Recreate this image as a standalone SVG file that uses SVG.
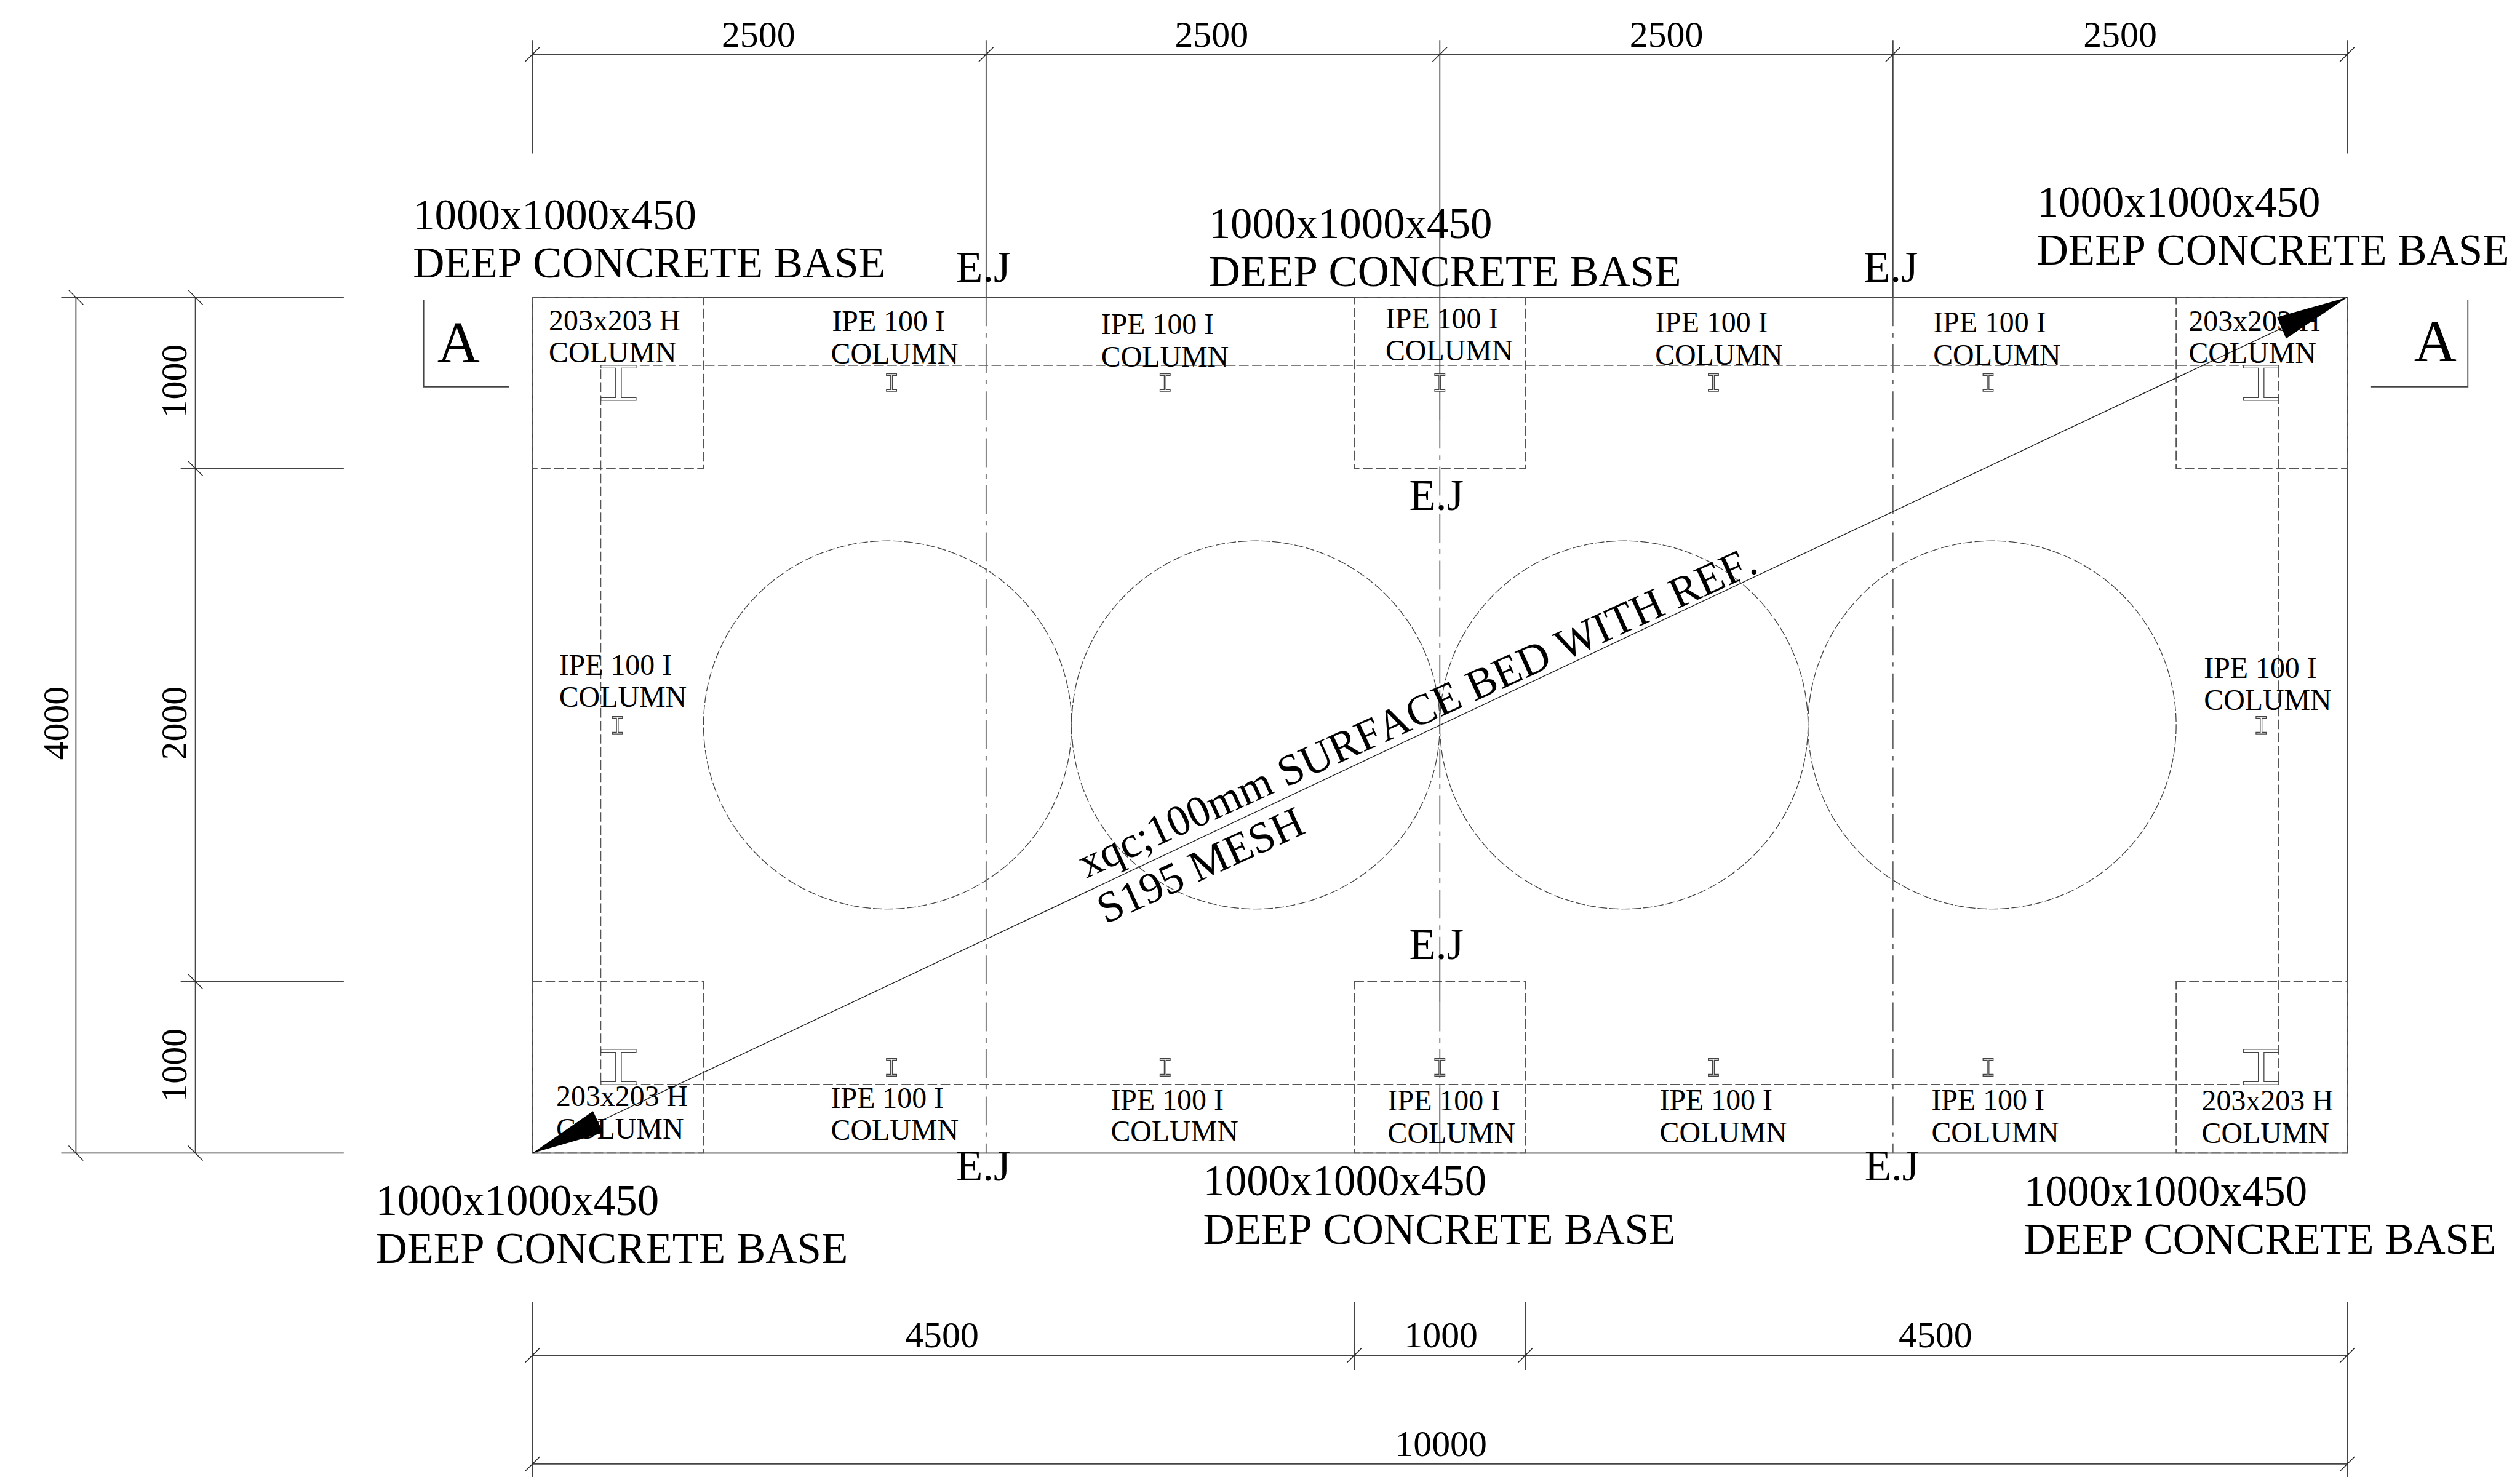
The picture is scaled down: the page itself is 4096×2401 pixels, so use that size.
<svg xmlns="http://www.w3.org/2000/svg" xmlns:xlink="http://www.w3.org/1999/xlink" width="4096" height="2401" viewBox="0 0 4096 2401">
<style>
text{font-family:"Liberation Serif","Times New Roman",serif;fill:#000;font-kerning:none}
.big{font-size:77px}
.lab{font-size:52px}
.dim{font-size:65px;text-anchor:middle}
.sec{font-size:104px}
.l{stroke:#444;stroke-width:2;fill:none}
.t{stroke:#222;stroke-width:1.5;fill:none}
.d{stroke:#555;stroke-width:2;fill:none;stroke-dasharray:17 6}
.c{stroke:#444;stroke-width:1.4;fill:none;stroke-dasharray:16 4}
.e{stroke:#666;stroke-width:2;fill:none;stroke-dasharray:51 12 8 12}
.s{stroke:#444;stroke-width:1.4;fill:#fff}
</style>
<defs>
<path id="bigI" class="s" d="M0 0H62V5H36V57H62V62H0V57H26V5H0Z"/>
<path id="smallI" class="s" d="M0 0H18V3H10.5V28H18V31H0V28H7.5V3H0Z"/>
<path id="tick" class="t" d="M-13 13L13 -13"/>
<path id="tickb" class="t" d="M-13 -13L13 13"/>
</defs>
<g transform="scale(0.92065)">
<g id="slab">
<rect class="l" x="940" y="525" width="3204" height="1511"/>
<rect class="d" x="1060.5" y="645" width="2962.5" height="1270"/>
</g>
<g id="bases">
<rect class="d" x="940" y="525" width="302" height="302"/>
<rect class="d" x="2391" y="525" width="302" height="302"/>
<rect class="d" x="3842" y="525" width="302" height="302"/>
<rect class="d" x="940" y="1733" width="302" height="303"/>
<rect class="d" x="2391" y="1733" width="302" height="303"/>
<rect class="d" x="3842" y="1733" width="302" height="303"/>
</g>
<g id="tanks">
<circle class="c" cx="1567" cy="1280" r="325"/>
<circle class="c" cx="2217" cy="1280" r="325"/>
<circle class="c" cx="2867" cy="1280" r="325"/>
<circle class="c" cx="3517" cy="1280" r="325"/>
</g>
<g id="joints">
<path class="e" d="M1741 525V2036M2542 741V1693M2542 1770V1920M3342 525V2036"/>
<path class="l" d="M2542 525V741M2542 1693V1770M2542 1920V2036"/>
</g>
<g id="columns">
<use xlink:href="#bigI" href="#bigI" x="1061" y="645"/>
<use xlink:href="#bigI" href="#bigI" x="3961" y="645"/>
<use xlink:href="#bigI" href="#bigI" x="1061" y="1853"/>
<use xlink:href="#bigI" href="#bigI" x="3961" y="1853"/>
<use xlink:href="#smallI" href="#smallI" x="1565" y="660"/>
<use xlink:href="#smallI" href="#smallI" x="2048" y="660"/>
<use xlink:href="#smallI" href="#smallI" x="2533" y="660"/>
<use xlink:href="#smallI" href="#smallI" x="3016" y="660"/>
<use xlink:href="#smallI" href="#smallI" x="3501" y="660"/>
<use xlink:href="#smallI" href="#smallI" x="1565" y="1869"/>
<use xlink:href="#smallI" href="#smallI" x="2048" y="1869"/>
<use xlink:href="#smallI" href="#smallI" x="2533" y="1869"/>
<use xlink:href="#smallI" href="#smallI" x="3016" y="1869"/>
<use xlink:href="#smallI" href="#smallI" x="3501" y="1869"/>
<use xlink:href="#smallI" href="#smallI" x="1081" y="1265"/>
<use xlink:href="#smallI" href="#smallI" x="3983" y="1265"/>
</g>
<g id="dimensions">
<path class="l" d="M940 96H4144M940 71V271M1741 71V525M2542 71V525M3342 71V525M4144 71V271"/>
<path class="l" d="M134 525V2036M345 525V2036M108 525H607M108 2036H607M319 827H607M319 1733H607"/>
<path class="l" d="M940 2393H4144M940 2585H4144M940 2299V2608M2391 2299V2419M2693 2299V2419M4144 2299V2608"/>
<use xlink:href="#tick" href="#tick" x="940" y="96"/>
<use xlink:href="#tick" href="#tick" x="1741" y="96"/>
<use xlink:href="#tick" href="#tick" x="2542" y="96"/>
<use xlink:href="#tick" href="#tick" x="3342" y="96"/>
<use xlink:href="#tick" href="#tick" x="4144" y="96"/>
<use xlink:href="#tick" href="#tick" x="940" y="2393"/>
<use xlink:href="#tick" href="#tick" x="2391" y="2393"/>
<use xlink:href="#tick" href="#tick" x="2693" y="2393"/>
<use xlink:href="#tick" href="#tick" x="4144" y="2393"/>
<use xlink:href="#tick" href="#tick" x="940" y="2585"/>
<use xlink:href="#tick" href="#tick" x="4144" y="2585"/>
<use xlink:href="#tickb" href="#tickb" x="134" y="525"/>
<use xlink:href="#tickb" href="#tickb" x="134" y="2036"/>
<use xlink:href="#tickb" href="#tickb" x="345" y="525"/>
<use xlink:href="#tickb" href="#tickb" x="345" y="827"/>
<use xlink:href="#tickb" href="#tickb" x="345" y="1733"/>
<use xlink:href="#tickb" href="#tickb" x="345" y="2036"/>
<text class="dim" x="1339" y="83">2500</text>
<text class="dim" x="2139" y="83">2500</text>
<text class="dim" x="2942" y="83">2500</text>
<text class="dim" x="3743" y="83">2500</text>
<text class="dim" x="1663" y="2379">4500</text>
<text class="dim" x="2544" y="2379">1000</text>
<text class="dim" x="3417" y="2379">4500</text>
<text class="dim" x="2544" y="2571">10000</text>
<text class="dim" transform="translate(121 1277) rotate(-90)">4000</text>
<text class="dim" transform="translate(329 673) rotate(-90)">1000</text>
<text class="dim" transform="translate(329 1277) rotate(-90)">2000</text>
<text class="dim" transform="translate(329 1881) rotate(-90)">1000</text>
</g>
<g id="section-marks">
<path class="l" d="M748 529V683H899M4357 529V683H4186"/>
<text class="sec" x="772" y="640">A</text>
<text class="sec" x="4262" y="638">A</text>
</g>
<g id="leader">
<path class="t" d="M940 2036L4144 525"/>
<polygon points="4144,525 4020,560 4036,598" fill="#000"/>
<polygon points="940,2036 1047,1962 1065,2000" fill="#000"/>
</g>
<g id="leader-text">
<text class="big" transform="translate(1918 1551) rotate(-24.5)">xqc;100mm SURFACE BED WITH REF.</text>
<text class="big" transform="translate(1952 1632) rotate(-24.5)">S195 MESH</text>
</g>
<g id="base-labels" class="big">
<text x="729" y="405">1000x1000x450</text><text x="729" y="490">DEEP CONCRETE BASE</text>
<text x="2134" y="420">1000x1000x450</text><text x="2134" y="505">DEEP CONCRETE BASE</text>
<text x="3596" y="382">1000x1000x450</text><text x="3596" y="467">DEEP CONCRETE BASE</text>
<text x="663" y="2145">1000x1000x450</text><text x="663" y="2230">DEEP CONCRETE BASE</text>
<text x="2124" y="2111">1000x1000x450</text><text x="2124" y="2196">DEEP CONCRETE BASE</text>
<text x="3573" y="2129">1000x1000x450</text><text x="3573" y="2214">DEEP CONCRETE BASE</text>
</g>
<g id="joint-labels" class="big">
<text x="1688" y="497">E.J</text>
<text x="3290" y="497">E.J</text>
<text x="2488" y="900">E.J</text>
<text x="2488" y="1693">E.J</text>
<text x="1688" y="2084">E.J</text>
<text x="3292" y="2084">E.J</text>
</g>
<g id="column-labels" class="lab">
<text x="969" y="583">203x203 H</text><text x="969" y="640">COLUMN</text>
<text x="1469" y="584">IPE 100 I</text><text x="1467" y="642">COLUMN</text>
<text x="1944" y="590">IPE 100 I</text><text x="1944" y="647">COLUMN</text>
<text x="2446" y="580">IPE 100 I</text><text x="2446" y="637">COLUMN</text>
<text x="2922" y="586">IPE 100 I</text><text x="2922" y="644">COLUMN</text>
<text x="3413" y="586">IPE 100 I</text><text x="3413" y="644">COLUMN</text>
<text x="3864" y="584">203x203 H</text><text x="3864" y="641">COLUMN</text>
<text x="982" y="1953">203x203 H</text><text x="982" y="2010">COLUMN</text>
<text x="1467" y="1956">IPE 100 I</text><text x="1467" y="2013">COLUMN</text>
<text x="1961" y="1959">IPE 100 I</text><text x="1961" y="2015">COLUMN</text>
<text x="2450" y="1961">IPE 100 I</text><text x="2450" y="2018">COLUMN</text>
<text x="2930" y="1959">IPE 100 I</text><text x="2930" y="2017">COLUMN</text>
<text x="3410" y="1959">IPE 100 I</text><text x="3410" y="2017">COLUMN</text>
<text x="3887" y="1961">203x203 H</text><text x="3887" y="2018">COLUMN</text>
<text x="987" y="1192">IPE 100 I</text><text x="987" y="1248">COLUMN</text>
<text x="3891" y="1197">IPE 100 I</text><text x="3891" y="1254">COLUMN</text>
</g>
</g>
</svg>
